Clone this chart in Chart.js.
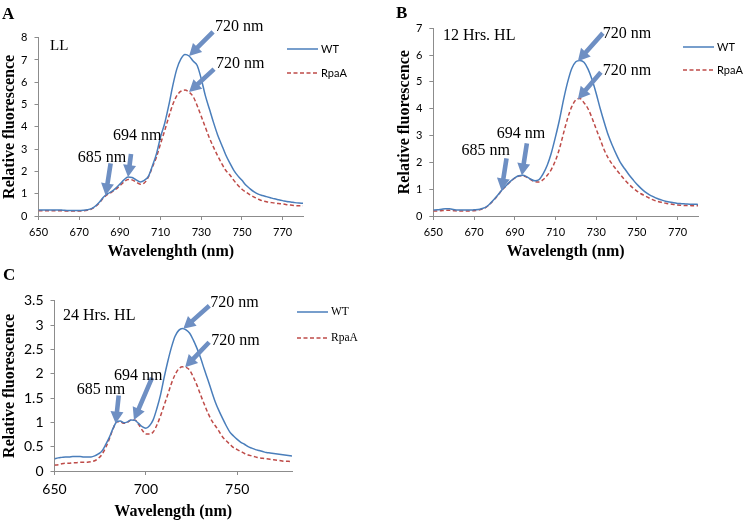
<!DOCTYPE html>
<html>
<head>
<meta charset="utf-8">
<script src="https://cdn.jsdelivr.net/npm/chart.js@4.4.1/dist/chart.umd.min.js"></script>
<style>
html, body { margin: 0; padding: 0; background: #fff; }
#wrap { position: relative; width: 745px; height: 524px; overflow: hidden; }
#wrap canvas { position: absolute; left: 0; top: 0; }
</style>
</head>
<body>
<div id="wrap">
    <canvas id="chartA" width="745" height="524"></canvas>
    <canvas id="chartB" width="745" height="524"></canvas>
    <canvas id="chartC" width="745" height="524"></canvas>
</div>
<script>
// DATA
var wavelengths = [650, 652, 654, 656, 658, 660, 662, 664, 666, 668,
    670, 672, 674, 676, 678, 680, 682, 684, 686, 688,
    690, 692, 694, 696, 698, 700, 702, 704, 706, 708,
    710, 712, 714, 716, 718, 720, 722, 724, 726, 728,
    730, 732, 734, 736, 738, 740, 742, 744, 746, 748,
    750, 752, 754, 756, 758, 760, 762, 764, 766, 768,
    770, 772, 774, 776, 778, 780];

var ticksFine = [650, 670, 690, 710, 730, 750, 770];
var ticksCoarse = [650, 700, 750];
var seriesNames = ["WT", "RpaA"];

// A - LL
var wtLL = [0.27, 0.27, 0.27, 0.27, 0.27, 0.27, 0.26, 0.25, 0.25, 0.25,
    0.25, 0.26, 0.28, 0.33, 0.45, 0.63, 0.85, 1.0, 1.1, 1.25,
    1.43, 1.62, 1.75, 1.73, 1.62, 1.53, 1.6, 1.78, 2.25, 2.8,
    3.55, 4.15, 4.95, 5.85, 6.6, 7.05, 7.25, 7.18, 6.95, 6.75,
    6.15, 5.4, 4.8, 4.2, 3.65, 3.2, 2.75, 2.38, 2.05, 1.8,
    1.6, 1.38, 1.22, 1.08, 0.98, 0.92, 0.87, 0.82, 0.77, 0.73,
    0.69, 0.65, 0.63, 0.6, 0.58, 0.57];
var rpaLL = [0.24, 0.24, 0.24, 0.24, 0.24, 0.24, 0.23, 0.22, 0.22, 0.22,
    0.22, 0.23, 0.26, 0.31, 0.43, 0.6, 0.82, 0.97, 1.07, 1.2,
    1.36, 1.53, 1.64, 1.62, 1.52, 1.43, 1.48, 1.75, 2.2, 2.65,
    3.25, 3.82, 4.44, 5.0, 5.4, 5.6, 5.65, 5.56, 5.36, 4.95,
    4.47, 3.98, 3.5, 3.09, 2.71, 2.36, 2.05, 1.85, 1.6, 1.38,
    1.2, 1.07, 0.95, 0.85, 0.76, 0.68, 0.64, 0.61, 0.58, 0.56,
    0.54, 0.51, 0.49, 0.47, 0.46, 0.46];

// B - 12 Hrs. HL
var wt12 = [0.22, 0.23, 0.25, 0.27, 0.27, 0.24, 0.22, 0.22, 0.22, 0.22,
    0.23, 0.24, 0.28, 0.34, 0.47, 0.63, 0.81, 1.0, 1.15, 1.3,
    1.42, 1.5, 1.52, 1.46, 1.37, 1.31, 1.36, 1.58, 1.9, 2.36,
    2.95, 3.6, 4.35, 5.0, 5.5, 5.75, 5.8, 5.73, 5.48, 5.08,
    4.57, 4.0, 3.48, 3.0, 2.62, 2.28, 1.98, 1.76, 1.55, 1.36,
    1.18, 1.03, 0.9, 0.8, 0.72, 0.65, 0.6, 0.55, 0.52, 0.49,
    0.47, 0.46, 0.45, 0.44, 0.44, 0.43];
var rpa12 = [0.19, 0.19, 0.2, 0.21, 0.21, 0.2, 0.19, 0.19, 0.19, 0.19,
    0.2, 0.22, 0.26, 0.33, 0.46, 0.62, 0.8, 0.99, 1.14, 1.29,
    1.41, 1.49, 1.5, 1.44, 1.35, 1.28, 1.27, 1.36, 1.52, 1.74,
    2.07, 2.52, 3.1, 3.65, 4.08, 4.33, 4.38, 4.22, 4.0, 3.65,
    3.24, 2.85, 2.45, 2.15, 1.92, 1.72, 1.53, 1.35, 1.19, 1.05,
    0.93, 0.83, 0.75, 0.67, 0.6, 0.55, 0.51, 0.48, 0.45, 0.43,
    0.41, 0.4, 0.39, 0.39, 0.38, 0.38];

// C - 24 Hrs. HL
var wt24 = [0.25, 0.27, 0.28, 0.29, 0.29, 0.3, 0.3, 0.3, 0.29, 0.29,
    0.29, 0.31, 0.35, 0.41, 0.54, 0.69, 0.87, 1.01, 1.03, 0.99,
    1.01, 1.05, 1.04, 0.98, 0.91, 0.88, 0.93, 1.05, 1.28, 1.56,
    1.92, 2.25, 2.54, 2.77, 2.89, 2.93, 2.9, 2.83, 2.69, 2.52,
    2.32, 2.09, 1.87, 1.64, 1.42, 1.24, 1.08, 0.93, 0.8, 0.72,
    0.65, 0.59, 0.55, 0.5, 0.47, 0.44, 0.42, 0.4, 0.38, 0.37,
    0.36, 0.35, 0.34, 0.33, 0.32, 0.31];
var rpa24 = [0.12, 0.13, 0.15, 0.16, 0.16, 0.17, 0.17, 0.18, 0.18, 0.18,
    0.19, 0.21, 0.26, 0.34, 0.48, 0.66, 0.86, 1.01, 1.01, 0.98,
    1.0, 1.05, 1.05, 0.96, 0.84, 0.76, 0.76, 0.8, 0.94, 1.13,
    1.35, 1.57, 1.8, 1.98, 2.1, 2.14, 2.13, 2.07, 1.93, 1.76,
    1.56, 1.37, 1.19, 1.04, 0.93, 0.82, 0.7, 0.62, 0.55, 0.48,
    0.44, 0.4, 0.36, 0.33, 0.31, 0.29, 0.27, 0.26, 0.25, 0.24,
    0.23, 0.22, 0.21, 0.2, 0.2, 0.19];

// STYLES
var WT_COLOR = "#4a7ebb";
var RPA_COLOR = "#be4b48";
var AXIS_COLOR = "#8c8c8c";
var ARROW_COLOR = "#6e8fc3";
var SERIF = "'Liberation Serif', 'Times New Roman', serif";
var SANS = "Lato, 'Liberation Sans', sans-serif";

// panel layout (pixels) ; arrows: tip on a series at a wavelength, tail/text offsets from tip
var panels = [
    {
        id: "chartA", letter: "A", letterPos: [2, 19], note: "LL", notePos: [50, 50], noteSize: 15,
        xTitle: "Wavelenghth (nm)", titleLeft: 0, xTitleY: 252,
        area: { left: 38.5, right: 303, top: 37.7, bottom: 216 },
        yMax: 8, yStep: 1, xTicks: ticksFine, tickSize: 11,
        wt: wtLL, rpa: rpaLL,
        legend: { x: 287, y: [49, 73], font: "11px " + SANS },
        arrows: [
            { s: 0, nm: 724, tail: [24, -24], text: [26, -25] },
            { s: 1, nm: 724, tail: [25, -23], text: [27, -24] },
            { s: 0, nm: 694, tail: [3, -23], text: [-15, -37], label: "694 nm" },
            { s: 0, nm: 683, tail: [5, -32], text: [-28, -33], label: "685 nm" },
        ],
    },
    {
        id: "chartB", letter: "B", letterPos: [396, 18], note: "12 Hrs. HL", notePos: [443, 40], noteSize: 16,
        xTitle: "Wavelength (nm)", titleLeft: 395.5, xTitleY: 252,
        area: { left: 433.3, right: 698, top: 28.3, bottom: 216 },
        yMax: 7, yStep: 1, xTicks: ticksFine, tickSize: 11,
        wt: wt12, rpa: rpa12,
        legend: { x: 683, y: [47, 70], font: "11px " + SANS },
        arrows: [
            { s: 0, nm: 721, tail: [25, -28], text: [25, -23] },
            { s: 1, nm: 721, tail: [23, -27], text: [25, -24] },
            { s: 0, nm: 693.5, tail: [5, -32], text: [-25, -37], label: "694 nm" },
            { s: 0, nm: 683.5, tail: [5, -32], text: [-40, -35], label: "685 nm" },
        ],
    },
    {
        id: "chartC", letter: "C", letterPos: [3, 280], note: "24 Hrs. HL", notePos: [63, 320], noteSize: 16,
        xTitle: "Wavelength (nm)", titleLeft: 0, xTitleY: 512,
        area: { left: 54.5, right: 292, top: 300.7, bottom: 471 },
        yMax: 3.5, yStep: 0.5, xTicks: ticksCoarse, tickSize: 14,
        wt: wt24, rpa: rpa24,
        legend: { x: 297, y: [312, 338], font: "11.5px " + SERIF },
        arrows: [
            { s: 0, nm: 720.5, tail: [26, -23], text: [27, -22] },
            { s: 1, nm: 721.5, tail: [24, -25], text: [26, -22] },
            { s: 1, nm: 693.5, tail: [18, -42], text: [-20, -40], label: "694 nm" },
            { s: 0, nm: 683.5, tail: [3, -28], text: [-39, -30], label: "685 nm" },
        ],
    },
];

function valueAt(values, nm) {
    for (var i = 0; i < wavelengths.length - 1; i++) {
        if (nm >= wavelengths[i] && nm <= wavelengths[i + 1]) {
            var t = (nm - wavelengths[i]) / (wavelengths[i + 1] - wavelengths[i]);
            return values[i] + t * (values[i + 1] - values[i]);
        }
    }
    return values[values.length - 1];
}

function drawArrow(ctx, x0, y0, x1, y1) {
    var ang = Math.atan2(y1 - y0, x1 - x0);
    var len = Math.hypot(x1 - x0, y1 - y0);
    var w = 2.3, h = 12, hw = 6.5;
    ctx.save();
    ctx.translate(x0, y0);
    ctx.rotate(ang);
    ctx.beginPath();
    ctx.moveTo(0, -w);
    ctx.lineTo(len - h, -w);
    ctx.lineTo(len - h, -hw);
    ctx.lineTo(len, 0);
    ctx.lineTo(len - h, hw);
    ctx.lineTo(len - h, w);
    ctx.lineTo(0, w);
    ctx.closePath();
    ctx.fillStyle = ARROW_COLOR;
    ctx.fill();
    ctx.restore();
}

function decoPlugin(p) {
    return {
        id: "deco" + p.letter,
        afterDatasetsDraw: function (chart) {
            var ctx = chart.ctx;
            var xs = chart.scales.x, ys = chart.scales.y;
            var series = [p.wt, p.rpa];
            ctx.save();
            ctx.fillStyle = "#000";
            ctx.textBaseline = "alphabetic";
            ctx.textAlign = "left";

            // panel letter + condition
            ctx.font = "bold 17px " + SERIF;
            ctx.fillText(p.letter, p.letterPos[0], p.letterPos[1]);
            ctx.font = p.noteSize + "px " + SERIF;
            ctx.fillText(p.note, p.notePos[0], p.notePos[1]);

            // arrows
            p.arrows.forEach(function (a) {
                var tx = xs.getPixelForValue(a.nm);
                var ty = ys.getPixelForValue(valueAt(series[a.s], a.nm));
                drawArrow(ctx, tx + a.tail[0], ty + a.tail[1], tx, ty);
                ctx.fillStyle = "#000";
                ctx.font = "16px " + SERIF;
                ctx.fillText(a.label || "720 nm", tx + a.text[0], ty + a.text[1]);
            });

            // legend
            chart.data.datasets.forEach(function (ds, i) {
                var ly = p.legend.y[i];
                ctx.beginPath();
                ctx.strokeStyle = ds.borderColor;
                ctx.lineWidth = ds.borderWidth;
                ctx.setLineDash(ds.borderDash || []);
                ctx.moveTo(p.legend.x, ly);
                ctx.lineTo(p.legend.x + 31, ly);
                ctx.stroke();
                ctx.setLineDash([]);
                ctx.fillStyle = "#000";
                ctx.font = p.legend.font;
                ctx.textBaseline = "middle";
                ctx.fillText(ds.label, p.legend.x + 34, ly);
                ctx.textBaseline = "alphabetic";
            });
            ctx.restore();
        },
    };
}

function points(values) {
    return wavelengths.map(function (w, i) {
        return { x: w, y: values[i] };
    });
}

panels.forEach(function (p) {
    var a = p.area;
    var xBottom = p.xTitleY + 9.6;
    new Chart(document.getElementById(p.id), {
        type: "line",
        data: {
            datasets: [
                {
                    label: seriesNames[0],
                    data: points(p.wt),
                    borderColor: WT_COLOR,
                    borderWidth: 1.5,
                    pointRadius: 0,
                    cubicInterpolationMode: "monotone",
                },
                {
                    label: seriesNames[1],
                    data: points(p.rpa),
                    borderColor: RPA_COLOR,
                    borderWidth: 1.5,
                    borderDash: [4, 2.5],
                    pointRadius: 0,
                    cubicInterpolationMode: "monotone",
                },
            ],
        },
        options: {
            responsive: false,
            animation: false,
            devicePixelRatio: 1,
            layout: {
                padding: { left: p.titleLeft, right: 745 - a.right, top: a.top, bottom: 524 - xBottom },
            },
            plugins: { legend: { display: false }, tooltip: { enabled: false } },
            scales: {
                x: {
                    type: "linear",
                    min: 650,
                    max: 780,
                    afterBuildTicks: function (axis) {
                        axis.ticks = p.xTicks.map(function (v) { return { value: v }; });
                    },
                    afterFit: function (axis) { axis.height = xBottom - a.bottom; },
                    ticks: { font: { family: SANS, size: p.tickSize }, color: "#000", padding: 6, maxRotation: 0, autoSkip: false },
                    grid: { drawOnChartArea: false, drawTicks: true, tickLength: 4, color: AXIS_COLOR },
                    border: { color: AXIS_COLOR },
                    title: { display: true, text: p.xTitle, color: "#000", padding: 0, font: { family: SERIF, size: 16, weight: "bold" } },
                },
                y: {
                    min: 0,
                    max: p.yMax,
                    afterFit: function (axis) { axis.width = a.left - p.titleLeft; },
                    ticks: {
                        stepSize: p.yStep,
                        font: { family: SANS, size: p.tickSize },
                        color: "#000",
                        padding: 7,
                        callback: function (v) { return String(Math.round(v * 10) / 10); },
                    },
                    grid: { drawOnChartArea: false, drawTicks: true, tickLength: 4, color: AXIS_COLOR },
                    border: { color: AXIS_COLOR },
                    title: { display: true, text: "Relative fluorescence", color: "#000", padding: 0, font: { family: SERIF, size: 16, weight: "bold" } },
                },
            },
        },
        plugins: [decoPlugin(p)],
    });
});
</script>
</body>
</html>
